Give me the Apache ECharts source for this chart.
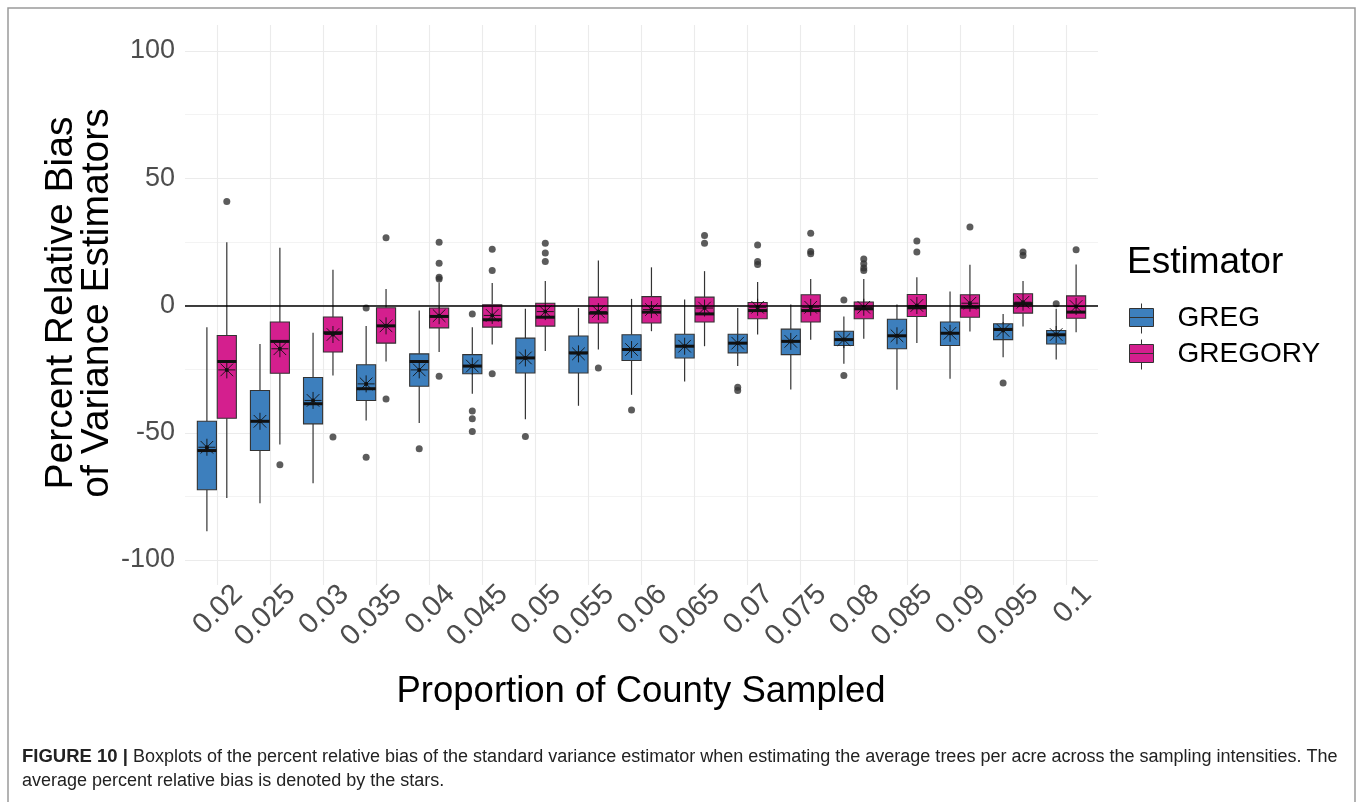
<!DOCTYPE html>
<html>
<head>
<meta charset="utf-8">
<script src="https://cdn.jsdelivr.net/npm/echarts@6/dist/echarts.min.js"></script>
<style>
  html, body { margin: 0; padding: 0; background: #fff; }
  #chart { width: 1358px; height: 802px; }
</style>
</head>
<body>
<div id="chart"></div>
<script>
// proportions of county sampled
const categories = ['0.02', '0.025', '0.03', '0.035', '0.04', '0.045', '0.05', '0.055', '0.06',
  '0.065', '0.07', '0.075', '0.08', '0.085', '0.09', '0.095', '0.1'];

// [whisker low, q1, median, q3, whisker high]
const gregBox = [
  [-88.7, -72.4, -57, -45.5, -8.5],
  [-77.7, -57, -45.5, -33.4, -15.1],
  [-69.8, -46.5, -38.6, -28.3, -10.7],
  [-45.2, -37.3, -32.7, -23.3, -8.1],
  [-46.2, -31.7, -22, -19, -2],
  [-34.7, -26.8, -23.8, -19.3, -8.5],
  [-44.7, -26.5, -20.6, -12.8, -1.3],
  [-39.4, -26.5, -18.6, -12, -1],
  [-35.1, -21.6, -17.3, -11.5, 2.6],
  [-29.9, -20.6, -16, -11.3, 2.4],
  [-23.8, -18.6, -14.8, -11.3, -1],
  [-33, -19.3, -14.1, -9.3, 0.4],
  [-22.9, -15.7, -13.4, -10.1, -4.3],
  [-33.1, -17, -11.9, -5.4, 0.4],
  [-28.8, -15.7, -10.9, -6.5, 5.5],
  [-20.3, -13.4, -9.4, -7.2, -3.3],
  [-21.2, -15.1, -11.5, -9.8, -1.3]
];
const gregMean = [-55.7, -45.5, -37.3, -30.8, -25.3, -23.8, -20.6, -19, -17.3, -16, -14.8, -14.1,
  -13.4, -11.9, -10.9, -9.8, -11.4];
const gregOutliers = [
  [], [], [], [-1, -59.6], [-56.3], [-3.3, -41.5, -44.5, -49.5], [-51.5], [], [-41.1], [],
  [-32.1, -33.4], [], [2.2, -27.5], [], [], [-30.5], [0.7]
];

const gregoryBox = [
  [-75.6, -44.3, -22, -11.8, 24.9],
  [-54.6, -26.6, -14.1, -6.5, 22.7],
  [-27.5, -18.3, -10.7, -4.5, 14],
  [-22, -14.8, -8, -0.9, 6.5],
  [-18.3, -8.8, -4.3, -1, 9],
  [-15.3, -8.5, -5.6, 0.3, 8.8],
  [-17.9, -8.1, -4.6, 0.9, 9.6],
  [-17.3, -6.9, -3, 3.3, 17.7],
  [-10.1, -6.9, -2.6, 3.5, 15],
  [-16, -6.5, -3.3, 3.3, 13.5],
  [-11.4, -5.2, -2, 1.2, 9.2],
  [-13.5, -6.5, -2, 4.2, 10.4],
  [-13.1, -5.2, -1.3, 1.4, 10.4],
  [-14.7, -4.3, -0.9, 4.3, 11.1],
  [-10.2, -4.6, -0.7, 4.2, 16],
  [-8.3, -3, 0.7, 4.6, 9.6],
  [-10.5, -5, -2.6, 3.8, 16.1]
];
const gregoryMean = [-25.3, -17, -11.4, -8, -4, -3.9, -2.4, -2.4, -1.6, -1, -0.7, -0.7, -0.7, 0,
  0.9, 1.3, -0.4];
const gregoryOutliers = [
  [40.9], [-62.6], [-51.7], [26.6, -36.7], [24.9, 16.6, 11.1, 10.4, -27.8], [22.1, 13.8, -26.8],
  [24.5, 20.6, 17.3], [-24.6], [], [27.5, 24.5], [23.8, 17.3, 16.1], [28.4, 21.2, 20.3],
  [18.3, 16.4, 14.7, 13.8], [25.3, 21], [30.8], [21, 19.6], [21.9]
];

const yTicks = [-100, 100, 50];   // min, max, step

const blue = '#3d7fbd';
const pink = '#d41f8e';
const font = 'Liberation Sans, Arial, sans-serif';
const dodge = 0.1875;
const boxWidth = 0.36;

function boxData(stats, side) {
  return stats.map((s, i) => [i + 1 + side * dodge].concat(s));
}
function meanData(means, side) {
  return means.map((m, i) => [i + 1 + side * dodge, m]);
}
function outlierData(outs, side) {
  const pts = [];
  outs.forEach((list, i) => list.forEach(v => pts.push([i + 1 + side * dodge, v])));
  return pts;
}

function renderBox(params, api) {
  const x = api.value(0);
  const lo = api.coord([x, api.value(1)]);
  const q1 = api.coord([x, api.value(2)]);
  const md = api.coord([x, api.value(3)]);
  const q3 = api.coord([x, api.value(4)]);
  const hi = api.coord([x, api.value(5)]);
  const half = api.size([boxWidth, 0])[0] / 2;
  const cx = lo[0];
  return {
    type: 'group',
    children: [
      { type: 'line', shape: { x1: cx, y1: hi[1], x2: cx, y2: q3[1] }, style: { stroke: '#333', lineWidth: 1.2 } },
      { type: 'line', shape: { x1: cx, y1: q1[1], x2: cx, y2: lo[1] }, style: { stroke: '#333', lineWidth: 1.2 } },
      { type: 'rect', shape: { x: cx - half, y: q3[1], width: half * 2, height: q1[1] - q3[1] },
        style: { fill: api.visual('color'), stroke: '#333', lineWidth: 1.1 } },
      { type: 'line', shape: { x1: cx - half, y1: md[1], x2: cx + half, y2: md[1] }, style: { stroke: '#111', lineWidth: 3 } }
    ]
  };
}

function renderStar(params, api) {
  const p = api.coord([api.value(0), api.value(1)]);
  const r = 8.5, d = 6.3;
  const st = () => ({ stroke: '#111', lineWidth: 0.9 });
  return {
    type: 'group',
    children: [
      { type: 'line', shape: { x1: p[0], y1: p[1] - r, x2: p[0], y2: p[1] + r }, style: st() },
      { type: 'line', shape: { x1: p[0] - r, y1: p[1], x2: p[0] + r, y2: p[1] }, style: st() },
      { type: 'line', shape: { x1: p[0] - d, y1: p[1] - d, x2: p[0] + d, y2: p[1] + d }, style: st() },
      { type: 'line', shape: { x1: p[0] - d, y1: p[1] + d, x2: p[0] + d, y2: p[1] - d }, style: st() },
      { type: 'circle', shape: { cx: p[0], cy: p[1], r: 2 }, style: { fill: '#111' } }
    ]
  };
}

const keyIcon = 'path://M12,0L12,5M0,5L24,5L24,23L0,23ZM0,14L24,14M12,23L12,30';

let myChart = echarts.init(document.getElementById('chart'));
let option = {
  animation: false,
  backgroundColor: '#fff',
  grid: [
    { left: 185, right: 260, top: 51, bottom: 242, containLabel: false, outerBoundsMode: 'none' },
    { left: 217, width: 849, top: 25, bottom: 217, containLabel: false, outerBoundsMode: 'none' },
    { left: 238, width: 849, top: 25, bottom: 217, containLabel: false, outerBoundsMode: 'none' }
  ],
  xAxis: [
    { gridIndex: 0, type: 'value', min: 0.4, max: 17.6, show: false },
    {
      gridIndex: 1, type: 'category', data: categories, boundaryGap: false,
      axisLine: { show: false }, axisTick: { show: false }, axisLabel: { show: false },
      splitLine: { show: true, interval: 0, lineStyle: { color: '#ebebeb', width: 1.1 } }
    },
    {
      gridIndex: 2, type: 'category', data: categories, boundaryGap: false,
      axisLine: { show: false }, axisTick: { show: false }, splitLine: { show: false },
      axisLabel: { interval: 0, rotate: 45, margin: 5, fontSize: 29, color: '#4d4d4d', fontFamily: font }
    }
  ],
  yAxis: [
    {
      gridIndex: 0, type: 'value', min: yTicks[0], max: yTicks[1], interval: yTicks[2],
      axisLine: { show: false }, axisTick: { show: false },
      axisLabel: { margin: 10, fontSize: 27, color: '#4d4d4d', fontFamily: font },
      splitLine: { lineStyle: { color: '#ebebeb', width: 1.1 } },
      minorTick: { show: false, splitNumber: 2 },
      minorSplitLine: { show: true, lineStyle: { color: '#f2f2f2', width: 0.9 } }
    },
    { gridIndex: 1, type: 'value', show: false },
    { gridIndex: 2, type: 'value', show: false }
  ],
  legend: {
    orient: 'vertical', left: 1129, top: 303, padding: 0, itemWidth: 24, itemHeight: 30, itemGap: 5,
    selectedMode: false,
    data: [{ name: 'GREG', icon: keyIcon }, { name: 'GREGORY', icon: keyIcon }],
    itemStyle: { borderColor: '#333', borderWidth: 1 },
    textStyle: { fontSize: 28, color: '#000', fontFamily: font, padding: [0, 0, 0, 19] }
  },
  graphic: [
    { type: 'rect', silent: true, shape: { x: 8, y: 8, width: 1347, height: 820 },
      style: { fill: 'none', stroke: '#9a9a9a', lineWidth: 1.5 } },
    { type: 'text', x: 79, y: 303, rotation: Math.PI / 2,
      style: { text: 'Percent Relative Bias\nof Variance Estimators', fontSize: 39, lineHeight: 36,
        fontFamily: font, fill: '#000', align: 'center', verticalAlign: 'middle' } },
    { type: 'text', x: 641, y: 692,
      style: { text: 'Proportion of County Sampled', fontSize: 36.5, fontFamily: font, fill: '#000',
        align: 'center', verticalAlign: 'middle' } },
    { type: 'text', x: 1127, y: 263,
      style: { text: 'Estimator', fontSize: 37, fontFamily: font, fill: '#000',
        align: 'left', verticalAlign: 'middle' } },
    { type: 'text', x: 22, y: 757,
      style: {
        text: '{b|FIGURE 10 |} Boxplots of the percent relative bias of the standard variance estimator when estimating the average trees per acre across the sampling intensities. The',
        fontSize: 18, fontFamily: font, fill: '#222', align: 'left', verticalAlign: 'middle',
        rich: { b: { fontSize: 18.5, fontFamily: font, fontWeight: 'bold', fill: '#222' } }
      } },
    { type: 'text', x: 22, y: 781,
      style: { text: 'average percent relative bias is denoted by the stars.', fontSize: 18,
        fontFamily: font, fill: '#222', align: 'left', verticalAlign: 'middle' } }
  ],
  series: [
    { name: 'GREG', type: 'custom', xAxisIndex: 0, yAxisIndex: 0, renderItem: renderBox,
      itemStyle: { color: blue }, encode: { x: 0, y: [1, 2, 3, 4, 5] }, data: boxData(gregBox, -1), z: 2 },
    { name: 'GREGORY', type: 'custom', xAxisIndex: 0, yAxisIndex: 0, renderItem: renderBox,
      itemStyle: { color: pink }, encode: { x: 0, y: [1, 2, 3, 4, 5] }, data: boxData(gregoryBox, 1), z: 2 },
    { name: 'GREG outliers', type: 'scatter', xAxisIndex: 0, yAxisIndex: 0, symbolSize: 7,
      itemStyle: { color: '#333' }, data: outlierData(gregOutliers, -1), z: 3 },
    { name: 'GREGORY outliers', type: 'scatter', xAxisIndex: 0, yAxisIndex: 0, symbolSize: 7,
      itemStyle: { color: '#333' }, data: outlierData(gregoryOutliers, 1), z: 3,
      markLine: {
        silent: true, symbol: ['none', 'none'], label: { show: false },
        lineStyle: { color: '#000', width: 1.5, type: 'solid' }, data: [{ yAxis: 0 }]
      } },
    { name: 'GREG mean', type: 'custom', xAxisIndex: 0, yAxisIndex: 0, renderItem: renderStar,
      encode: { x: 0, y: 1 }, data: meanData(gregMean, -1), z: 4 },
    { name: 'GREGORY mean', type: 'custom', xAxisIndex: 0, yAxisIndex: 0, renderItem: renderStar,
      encode: { x: 0, y: 1 }, data: meanData(gregoryMean, 1), z: 4 }
  ]
};
myChart.setOption(option);
</script>
</body>
</html>
